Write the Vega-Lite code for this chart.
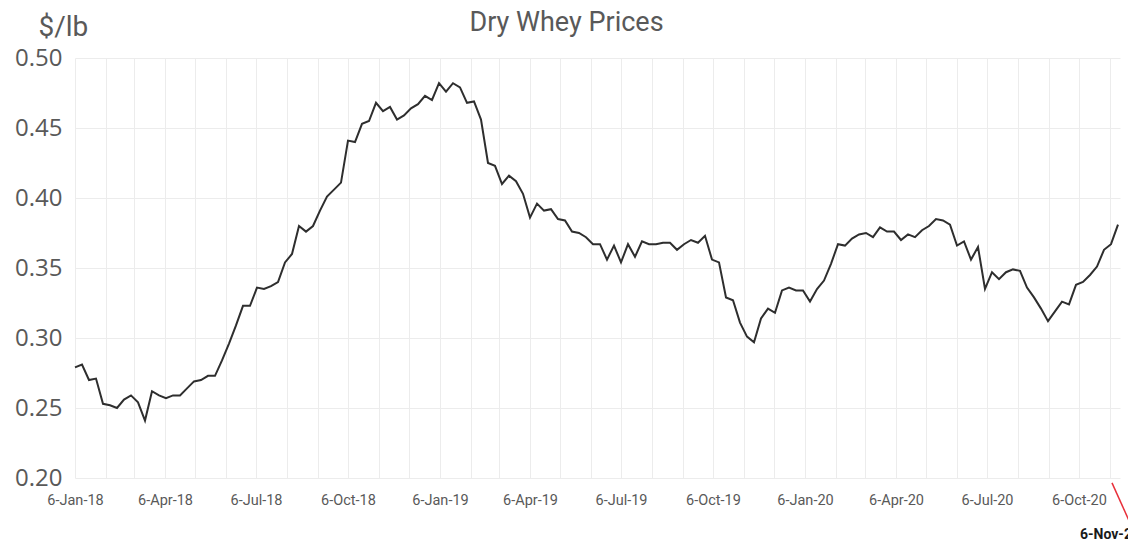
{
  "$schema": "https://vega.github.io/schema/vega-lite/v6.json",
  "autosize": {"type": "none"},
  "padding": {"left": 75, "top": 58, "right": 8, "bottom": 72},
  "width": 1045,
  "height": 420,
  "background": "white",
  "title": {
    "text": "Dry Whey  Prices",
    "anchor": "middle",
    "dx": -31,
    "baseline": "bottom",
    "offset": -51,
    "fontSize": 27,
    "font": "Roboto",
    "fontWeight": "normal",
    "color": "#595959"
  },
  "datasets": {
    "prices": [
      {"d": "2018-01-06", "v": 0.279}, {"d": "2018-01-13", "v": 0.281}, {"d": "2018-01-20", "v": 0.270}, {"d": "2018-01-27", "v": 0.271},
      {"d": "2018-02-03", "v": 0.253}, {"d": "2018-02-10", "v": 0.252}, {"d": "2018-02-17", "v": 0.250}, {"d": "2018-02-24", "v": 0.256},
      {"d": "2018-03-03", "v": 0.259}, {"d": "2018-03-10", "v": 0.254}, {"d": "2018-03-17", "v": 0.241}, {"d": "2018-03-24", "v": 0.262},
      {"d": "2018-03-31", "v": 0.259}, {"d": "2018-04-07", "v": 0.257}, {"d": "2018-04-14", "v": 0.259}, {"d": "2018-04-21", "v": 0.259},
      {"d": "2018-04-28", "v": 0.264}, {"d": "2018-05-05", "v": 0.269}, {"d": "2018-05-12", "v": 0.270}, {"d": "2018-05-19", "v": 0.273},
      {"d": "2018-05-26", "v": 0.273}, {"d": "2018-06-02", "v": 0.284}, {"d": "2018-06-09", "v": 0.296}, {"d": "2018-06-16", "v": 0.309},
      {"d": "2018-06-23", "v": 0.323}, {"d": "2018-06-30", "v": 0.323}, {"d": "2018-07-07", "v": 0.336}, {"d": "2018-07-14", "v": 0.335},
      {"d": "2018-07-21", "v": 0.337}, {"d": "2018-07-28", "v": 0.340}, {"d": "2018-08-04", "v": 0.354}, {"d": "2018-08-11", "v": 0.360},
      {"d": "2018-08-18", "v": 0.380}, {"d": "2018-08-25", "v": 0.376}, {"d": "2018-09-01", "v": 0.380}, {"d": "2018-09-08", "v": 0.391},
      {"d": "2018-09-15", "v": 0.401}, {"d": "2018-09-22", "v": 0.406}, {"d": "2018-09-29", "v": 0.411}, {"d": "2018-10-06", "v": 0.441},
      {"d": "2018-10-13", "v": 0.440}, {"d": "2018-10-20", "v": 0.453}, {"d": "2018-10-27", "v": 0.455}, {"d": "2018-11-03", "v": 0.468},
      {"d": "2018-11-10", "v": 0.462}, {"d": "2018-11-17", "v": 0.465}, {"d": "2018-11-24", "v": 0.456}, {"d": "2018-12-01", "v": 0.459},
      {"d": "2018-12-08", "v": 0.464}, {"d": "2018-12-15", "v": 0.467}, {"d": "2018-12-22", "v": 0.473}, {"d": "2018-12-29", "v": 0.470},
      {"d": "2019-01-05", "v": 0.482}, {"d": "2019-01-12", "v": 0.476}, {"d": "2019-01-19", "v": 0.482}, {"d": "2019-01-26", "v": 0.479},
      {"d": "2019-02-02", "v": 0.468}, {"d": "2019-02-09", "v": 0.469}, {"d": "2019-02-16", "v": 0.456}, {"d": "2019-02-23", "v": 0.425},
      {"d": "2019-03-02", "v": 0.423}, {"d": "2019-03-09", "v": 0.410}, {"d": "2019-03-16", "v": 0.416}, {"d": "2019-03-23", "v": 0.412},
      {"d": "2019-03-30", "v": 0.403}, {"d": "2019-04-06", "v": 0.386}, {"d": "2019-04-13", "v": 0.396}, {"d": "2019-04-20", "v": 0.391},
      {"d": "2019-04-27", "v": 0.392}, {"d": "2019-05-04", "v": 0.385}, {"d": "2019-05-11", "v": 0.384}, {"d": "2019-05-18", "v": 0.376},
      {"d": "2019-05-25", "v": 0.375}, {"d": "2019-06-01", "v": 0.372}, {"d": "2019-06-08", "v": 0.367}, {"d": "2019-06-15", "v": 0.367},
      {"d": "2019-06-22", "v": 0.356}, {"d": "2019-06-29", "v": 0.366}, {"d": "2019-07-06", "v": 0.354}, {"d": "2019-07-13", "v": 0.367},
      {"d": "2019-07-20", "v": 0.358}, {"d": "2019-07-27", "v": 0.369}, {"d": "2019-08-03", "v": 0.367}, {"d": "2019-08-10", "v": 0.367},
      {"d": "2019-08-17", "v": 0.368}, {"d": "2019-08-24", "v": 0.368}, {"d": "2019-08-31", "v": 0.363}, {"d": "2019-09-07", "v": 0.367},
      {"d": "2019-09-14", "v": 0.370}, {"d": "2019-09-21", "v": 0.368}, {"d": "2019-09-28", "v": 0.373}, {"d": "2019-10-05", "v": 0.356},
      {"d": "2019-10-12", "v": 0.354}, {"d": "2019-10-19", "v": 0.329}, {"d": "2019-10-26", "v": 0.327}, {"d": "2019-11-02", "v": 0.311},
      {"d": "2019-11-09", "v": 0.301}, {"d": "2019-11-16", "v": 0.297}, {"d": "2019-11-23", "v": 0.314}, {"d": "2019-11-30", "v": 0.321},
      {"d": "2019-12-07", "v": 0.318}, {"d": "2019-12-14", "v": 0.334}, {"d": "2019-12-21", "v": 0.336}, {"d": "2019-12-28", "v": 0.334},
      {"d": "2020-01-04", "v": 0.334}, {"d": "2020-01-11", "v": 0.326}, {"d": "2020-01-18", "v": 0.335}, {"d": "2020-01-25", "v": 0.341},
      {"d": "2020-02-01", "v": 0.353}, {"d": "2020-02-08", "v": 0.367}, {"d": "2020-02-15", "v": 0.366}, {"d": "2020-02-22", "v": 0.371},
      {"d": "2020-02-29", "v": 0.374}, {"d": "2020-03-07", "v": 0.375}, {"d": "2020-03-14", "v": 0.372}, {"d": "2020-03-21", "v": 0.379},
      {"d": "2020-03-28", "v": 0.376}, {"d": "2020-04-04", "v": 0.376}, {"d": "2020-04-11", "v": 0.370}, {"d": "2020-04-18", "v": 0.374},
      {"d": "2020-04-25", "v": 0.372}, {"d": "2020-05-02", "v": 0.377}, {"d": "2020-05-09", "v": 0.380}, {"d": "2020-05-16", "v": 0.385},
      {"d": "2020-05-23", "v": 0.384}, {"d": "2020-05-30", "v": 0.381}, {"d": "2020-06-06", "v": 0.366}, {"d": "2020-06-13", "v": 0.369},
      {"d": "2020-06-20", "v": 0.356}, {"d": "2020-06-27", "v": 0.365}, {"d": "2020-07-04", "v": 0.335}, {"d": "2020-07-11", "v": 0.347},
      {"d": "2020-07-18", "v": 0.342}, {"d": "2020-07-25", "v": 0.347}, {"d": "2020-08-01", "v": 0.349}, {"d": "2020-08-08", "v": 0.348},
      {"d": "2020-08-15", "v": 0.336}, {"d": "2020-08-22", "v": 0.329}, {"d": "2020-08-29", "v": 0.321}, {"d": "2020-09-05", "v": 0.312},
      {"d": "2020-09-12", "v": 0.319}, {"d": "2020-09-19", "v": 0.326}, {"d": "2020-09-26", "v": 0.324}, {"d": "2020-10-03", "v": 0.338},
      {"d": "2020-10-10", "v": 0.340}, {"d": "2020-10-17", "v": 0.345}, {"d": "2020-10-24", "v": 0.351}, {"d": "2020-10-31", "v": 0.363},
      {"d": "2020-11-07", "v": 0.367}, {"d": "2020-11-14", "v": 0.381}
    ],
    "note": [
      {"d": "2020-11-06", "v": 0.2, "label": "6-Nov-20"}
    ],
    "leader": [
      {"d": "2020-11-08", "v": 0.1965, "d2": "2020-11-26", "v2": 0.168}
    ]
  },
  "layer": [
    {
      "data": {"name": "prices"},
      "mark": {"type": "line", "color": "#2e2e2e", "strokeWidth": 2, "clip": false},
      "encoding": {
        "x": {
          "field": "d",
          "type": "temporal",
          "scale": {
            "type": "utc",
            "domain": [
              {"year": 2018, "month": 1, "date": 6, "utc": true},
              {"year": 2020, "month": 11, "date": 16, "utc": true}
            ]
          },
          "axis": {
            "title": null,
            "tickCount": 60,
            "values": [
              {"year": 2018, "month": 1, "date": 6, "utc": true}, {"year": 2018, "month": 2, "date": 6, "utc": true}, {"year": 2018, "month": 3, "date": 6, "utc": true},
              {"year": 2018, "month": 4, "date": 6, "utc": true}, {"year": 2018, "month": 5, "date": 6, "utc": true}, {"year": 2018, "month": 6, "date": 6, "utc": true},
              {"year": 2018, "month": 7, "date": 6, "utc": true}, {"year": 2018, "month": 8, "date": 6, "utc": true}, {"year": 2018, "month": 9, "date": 6, "utc": true},
              {"year": 2018, "month": 10, "date": 6, "utc": true}, {"year": 2018, "month": 11, "date": 6, "utc": true}, {"year": 2018, "month": 12, "date": 6, "utc": true},
              {"year": 2019, "month": 1, "date": 6, "utc": true}, {"year": 2019, "month": 2, "date": 6, "utc": true}, {"year": 2019, "month": 3, "date": 6, "utc": true},
              {"year": 2019, "month": 4, "date": 6, "utc": true}, {"year": 2019, "month": 5, "date": 6, "utc": true}, {"year": 2019, "month": 6, "date": 6, "utc": true},
              {"year": 2019, "month": 7, "date": 6, "utc": true}, {"year": 2019, "month": 8, "date": 6, "utc": true}, {"year": 2019, "month": 9, "date": 6, "utc": true},
              {"year": 2019, "month": 10, "date": 6, "utc": true}, {"year": 2019, "month": 11, "date": 6, "utc": true}, {"year": 2019, "month": 12, "date": 6, "utc": true},
              {"year": 2020, "month": 1, "date": 6, "utc": true}, {"year": 2020, "month": 2, "date": 6, "utc": true}, {"year": 2020, "month": 3, "date": 6, "utc": true},
              {"year": 2020, "month": 4, "date": 6, "utc": true}, {"year": 2020, "month": 5, "date": 6, "utc": true}, {"year": 2020, "month": 6, "date": 6, "utc": true},
              {"year": 2020, "month": 7, "date": 6, "utc": true}, {"year": 2020, "month": 8, "date": 6, "utc": true}, {"year": 2020, "month": 9, "date": 6, "utc": true},
              {"year": 2020, "month": 10, "date": 6, "utc": true}, {"year": 2020, "month": 11, "date": 6, "utc": true}
            ],
            "labelExpr": "utcmonth(datum.value) % 3 == 0 && utcmonth(datum.value) + 12 * utcyear(datum.value) < 12 * 2020 + 10 ? utcFormat(datum.value, '%-d-%b-%y') : ''",
            "labelOverlap": false,
            "labelFlush": false,
            "labelFont": "Roboto",
            "labelFontSize": 14.5,
            "labelColor": "#595959",
            "labelPadding": 15,
            "ticks": false,
            "domain": false,
            "grid": true,
            "gridColor": "#ececec",
            "gridWidth": 1
          }
        },
        "y": {
          "field": "v",
          "type": "quantitative",
          "scale": {"domain": [0.2, 0.5], "nice": false, "zero": false},
          "axis": {
            "values": [0.2, 0.25, 0.3, 0.35, 0.4, 0.45, 0.5],
            "tickCount": 20,
            "format": ".2f",
            "title": "$/lb",
            "titleAngle": 0,
            "titleAlign": "left",
            "titleBaseline": "alphabetic",
            "titleX": -37,
            "titleY": -23,
            "titleFont": "Roboto",
            "titleFontSize": 28,
            "titleFontWeight": "normal",
            "titleColor": "#595959",
            "labelFont": "Open Sans",
            "labelFontSize": 24,
            "labelColor": "#595959",
            "labelPadding": 13,
            "labelOverlap": false,
            "labelFlush": false,
            "ticks": false,
            "domain": false,
            "grid": true,
            "gridColor": "#ececec",
            "gridWidth": 1
          }
        }
      }
    },
    {
      "data": {"name": "leader"},
      "mark": {"type": "rule", "color": "#e8303a", "strokeWidth": 1.5, "clip": false},
      "encoding": {
        "x": {"field": "d", "type": "temporal"},
        "y": {"field": "v", "type": "quantitative"},
        "x2": {"field": "d2"},
        "y2": {"field": "v2"}
      }
    },
    {
      "data": {"name": "note"},
      "mark": {"type": "text", "font": "Roboto", "fontSize": 14, "fontWeight": "bold", "color": "#1a1a1a", "dy": 57, "align": "center", "baseline": "middle", "clip": false},
      "encoding": {
        "x": {"field": "d", "type": "temporal"},
        "y": {"field": "v", "type": "quantitative"},
        "text": {"field": "label"}
      }
    }
  ],
  "config": {"view": {"stroke": null}, "axis": {"labelOverlap": false}}
}
